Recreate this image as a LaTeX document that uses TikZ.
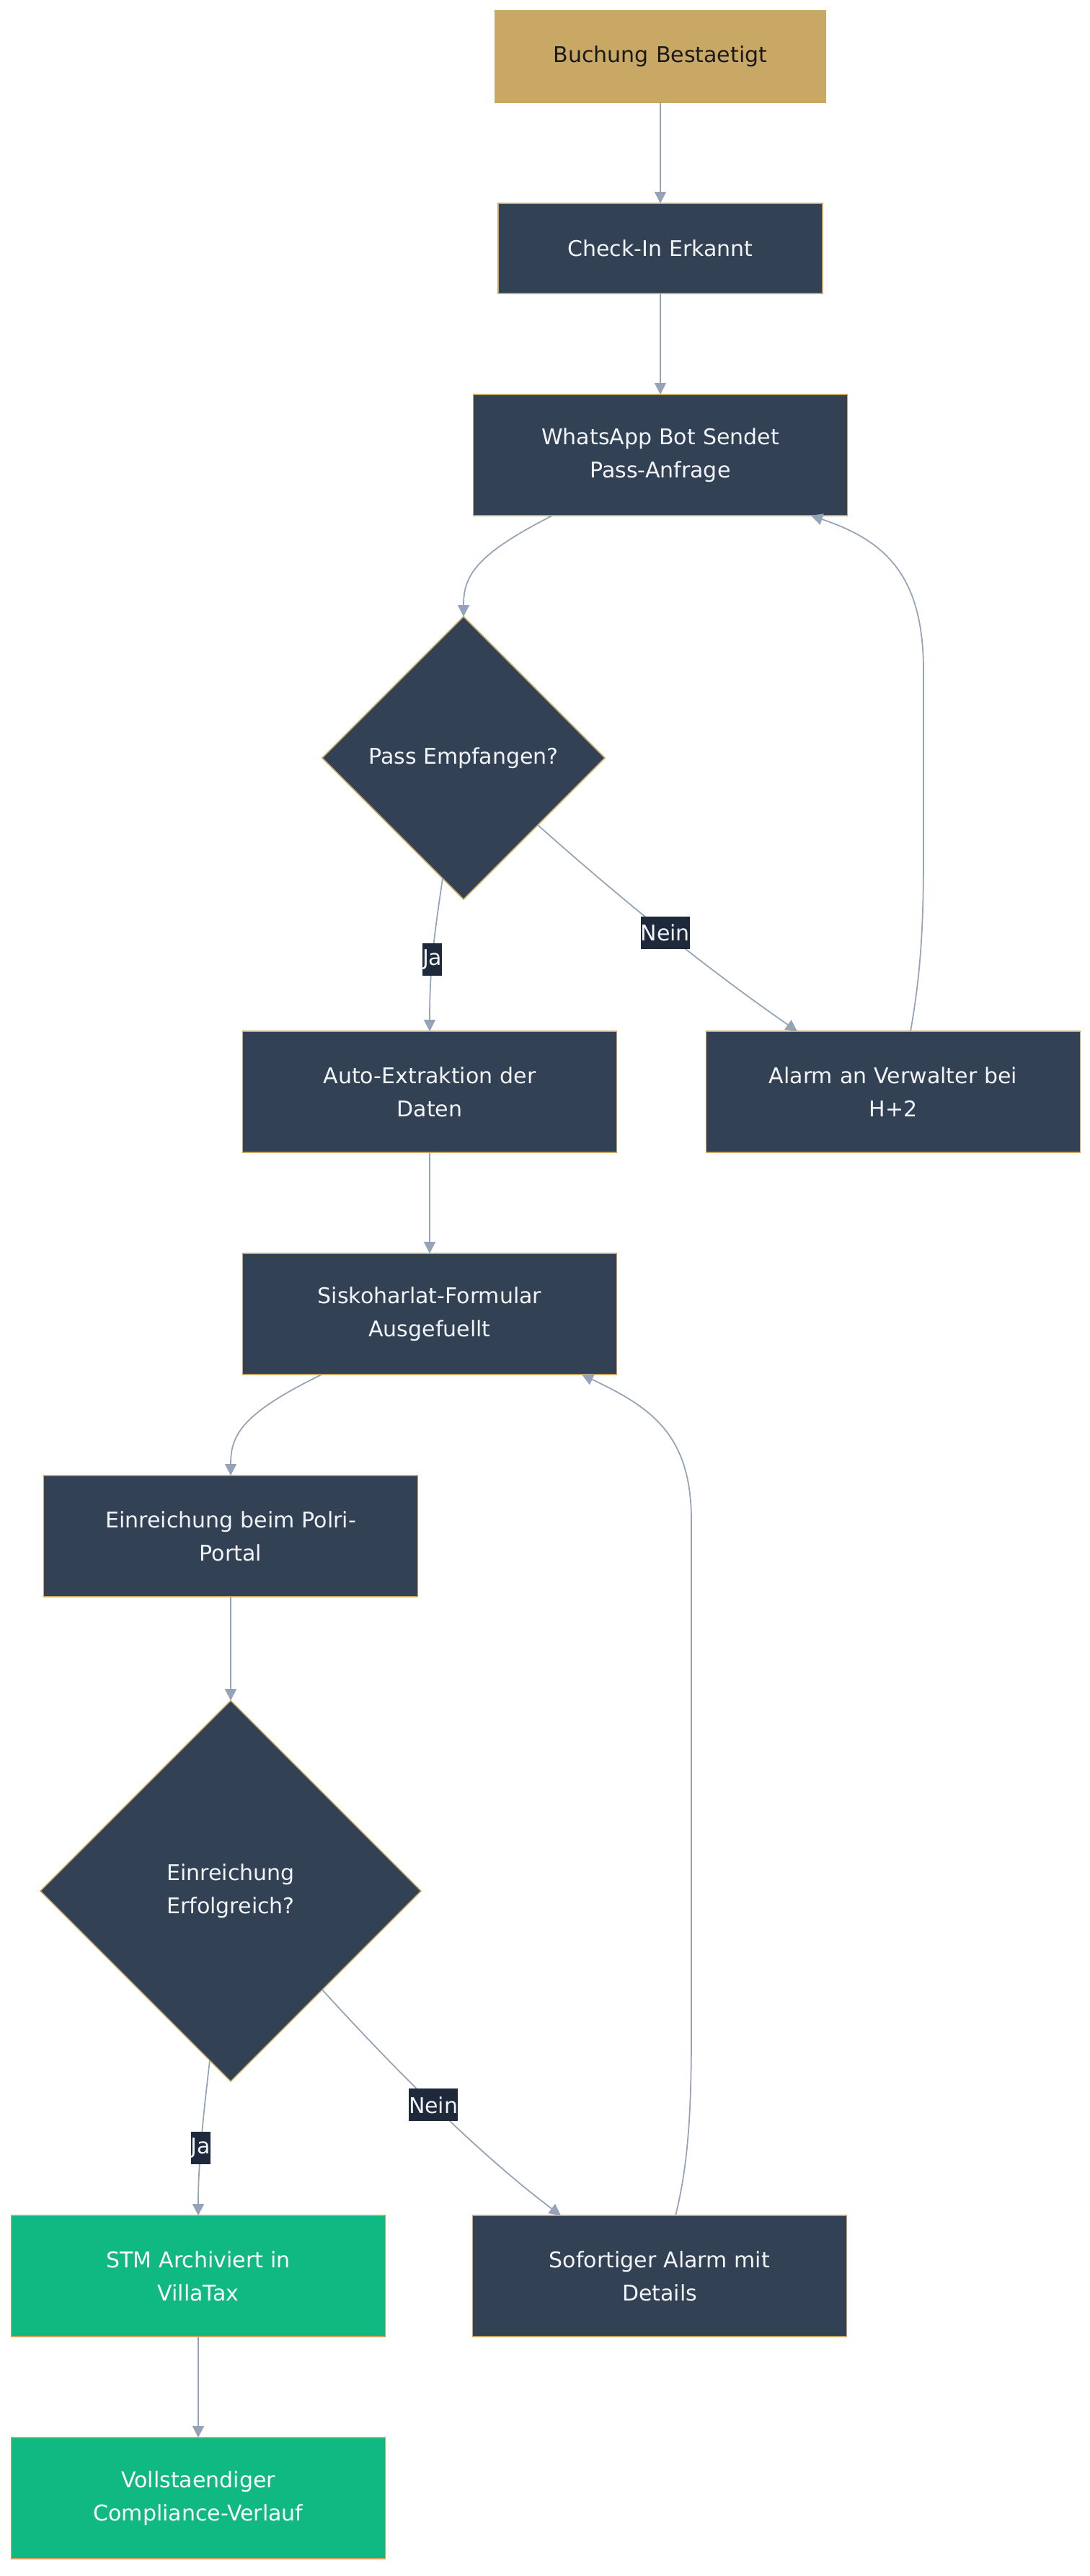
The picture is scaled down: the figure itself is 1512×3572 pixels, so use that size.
\documentclass[tikz,border=0pt]{standalone}
\usepackage{fontspec}
\setmainfont{DejaVu Sans}
\usetikzlibrary{positioning, shapes.geometric, arrows.meta, calc}
\definecolor{gold}{HTML}{C8A864}
\definecolor{slate}{HTML}{334155}
\definecolor{emerald}{HTML}{10B981}
\definecolor{edgegray}{HTML}{94A3B8}
\definecolor{labelbg}{HTML}{1E293B}
\definecolor{lighttext}{HTML}{F1F5F9}

\begin{document}
\begin{tikzpicture}[x=0.2mm, y=-0.2mm, node distance=28mm, font=\fontsize{17.07pt}{26.2pt}\selectfont]
    % Styles
    \tikzstyle{block} = [rectangle, draw=gold, line width=0.3mm, fill=slate, text=lighttext,
        text width=90mm, align=center, minimum width=103.8mm, minimum height=33.6mm, inner sep=0pt, outer sep=0pt]
    \tikzstyle{start} = [block, fill=gold, text=black!90]
    \tikzstyle{done} = [block, fill=emerald, text=white]
    \tikzstyle{decision} = [diamond, aspect=1, draw=gold, line width=0.3mm, fill=slate, text=lighttext,
        align=center, inner sep=0pt, outer sep=0pt, minimum width=78.4mm, minimum height=78.4mm]
    \tikzstyle{arrow} = [draw=edgegray, line width=0.35mm, -{Triangle[length=3.2mm, width=3.2mm]}]
    \tikzstyle{answer} = [fill=labelbg, text=lighttext, inner xsep=0pt, inner ysep=0pt, minimum height=9mm]

    \useasboundingbox (0,0) rectangle (1512,3572);

    % Nodes
    \node [start, minimum width=91.6mm, minimum height=25.4mm] (buchung) at (916,78.5) {Buchung Bestaetigt};
    \node [block, below=of buchung, minimum width=83.2mm, minimum height=25mm] (checkin) {Check-In Erkannt};
    \node [block, below=of checkin] (whatsapp) {WhatsApp Bot Sendet\\Pass-Anfrage};
    \node [decision, below=of whatsapp, xshift=-54.6mm] (pass) {Pass Empfangen?};
    \node [block, below=36.6mm of pass, xshift=-9.4mm] (extract) {Auto-Extraktion der\\Daten};
    \node [block, right=24.8mm of extract] (alarm) {Alarm an Verwalter bei\\H+2};
    \node [block, below=of extract] (form) {Siskoharlat-Formular\\Ausgefuellt};
    \node [block, below=of form, xshift=-55.2mm] (submit) {Einreichung beim Polri-\\Portal};
    \node [decision, below=28.8mm of submit, minimum width=105.6mm, minimum height=105.6mm] (success) {Einreichung\\Erfolgreich?};
    \node [done, below=37.2mm of success, xshift=-9mm] (archive) {STM Archiviert in\\VillaTax};
    \node [block, right=24.2mm of archive] (urgent) {Sofortiger Alarm mit\\Details};
    \node [done, below=of archive] (history) {Vollstaendiger\\Compliance-Verlauf};

    % Arrows
    \draw [arrow] (buchung) -- (checkin);
    \draw [arrow] (checkin) -- (whatsapp);
    \draw [arrow] ($(whatsapp.south)+(-150,0)$) .. controls +(-106,54) and +(0,-57) .. (pass.north);
    \draw [arrow] ($(pass.south)+(-29,-29)$) .. controls +(-12,82) and +(0,-89) .. (extract.north)
        node [answer, pos=0.55] {Ja};
    \draw [arrow] ($(pass.south)+(103,-103)$) .. controls +(134,119) and +(-114,-79) .. ($(alarm.north)+(-133,0)$)
        node [answer, pos=0.47] {Nein};
    \draw [arrow] ($(alarm.north)+(24,0)$) .. controls +(16,-90) and +(0,90) .. ($(alarm.north)+(42,-250)$)
        -- ($(alarm.north)+(42,-500)$) .. controls +(0,-130) and +(105,35) .. ($(whatsapp.south)+(209,0)$);
    \draw [arrow] (extract) -- (form);
    \draw [arrow] ($(form.south)+(-150,0)$) .. controls +(-110,54) and +(0,-57) .. (submit.north);
    \draw [arrow] (submit) -- (success);
    \draw [arrow] ($(success.south)+(-29,-29)$) .. controls +(-12,101) and +(0,-64) .. (archive.north)
        node [answer, pos=0.5] {Ja};
    \draw [arrow] ($(success.south)+(127,-127)$) .. controls +(122,134) and +(-99,-74) .. ($(urgent.north)+(-137,0)$)
        node [answer, pos=0.44] {Nein};
    \draw [arrow] ($(urgent.north)+(22,0)$) .. controls +(18,-70) and +(0,100) .. ($(urgent.north)+(44,-250)$)
        -- ($(urgent.north)+(44,-964)$) .. controls +(0,-120) and +(95,45) .. ($(form.south)+(211,0)$);
    \draw [arrow] (archive) -- (history);
\end{tikzpicture}
\end{document}
